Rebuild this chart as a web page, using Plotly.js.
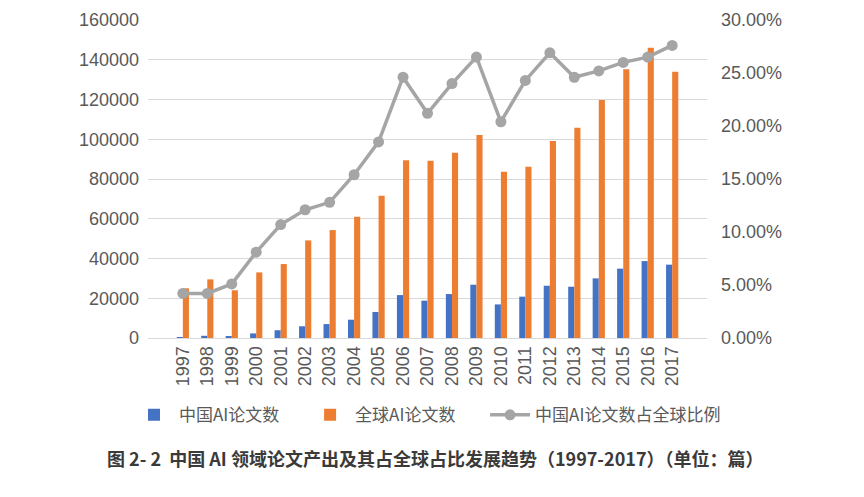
<!DOCTYPE html>
<html>
<head>
<meta charset="utf-8">
<script src="https://cdn.plot.ly/plotly-3.0.1.min.js"></script>
<style>html,body{margin:0;padding:0;background:#fff;}#chart{width:864px;height:497px;}</style>
</head>
<body>
<div id="chart"></div>
<script>
const years = ['1997','1998','1999','2000','2001','2002','2003','2004','2005','2006','2007','2008','2009','2010','2011','2012','2013','2014','2015','2016','2017'];
const chinaPapers = [500,1100,1000,2300,3900,5900,7000,9200,13100,21600,18800,22100,26800,16900,20800,26300,25800,30000,34900,38700,36900];
const globalPapers = [25000,29500,24000,33000,37200,49100,54300,61000,71600,89400,89200,93200,102100,83700,86200,99100,105800,119700,135200,146000,134000];
const chinaShare = [0.042,0.042,0.051,0.081,0.107,0.121,0.128,0.154,0.185,0.246,0.212,0.240,0.265,0.204,0.243,0.269,0.246,0.252,0.260,0.265,0.276];
const seriesNames = ['中国AI论文数','全球AI论文数','中国AI论文数占全球比例'];
const captionText = '图 2- 2  中国 AI 领域论文产出及其占全球占比发展趋势（1997-2017）（单位：篇）';

function tf(size) { return {family: 'Liberation Sans, Arial, sans-serif', size: size, color: '#595959'}; }
function lg(x) {
  return {orientation: 'h', x: x, xanchor: 'left', y: -0.243, yanchor: 'middle',
    font: {family: 'Noto Sans CJK SC, sans-serif', size: 17, color: '#595959'}, itemwidth: 40, bgcolor: 'rgba(0,0,0,0)'};
}
const traces = [
  {type: 'bar', name: seriesNames[0], x: years, y: chinaPapers, marker: {color: '#4472C4'}, yaxis: 'y', legend: 'legend'},
  {type: 'bar', name: seriesNames[1], x: years, y: globalPapers, marker: {color: '#ED7D31'}, yaxis: 'y', legend: 'legend2'},
  {type: 'scatter', mode: 'lines+markers', name: seriesNames[2], x: years, y: chinaShare, yaxis: 'y2', legend: 'legend3',
   line: {color: '#A5A5A5', width: 3.5}, marker: {color: '#A5A5A5', size: 11}}
];
const layout = {
  width: 864, height: 497,
  margin: {l: 148, r: 157, t: 20, b: 159},
  paper_bgcolor: '#fff', plot_bgcolor: '#fff',
  barmode: 'group', bargap: 0.5, bargroupgap: 0,
  showlegend: true,
  legend: lg(-0.034), legend2: lg(0.281), legend3: lg(0.603),
  xaxis: {type: 'category', tickangle: -90, tickfont: tf(18), showgrid: false, showline: true, linecolor: '#d9d9d9', linewidth: 1,
    ticks: '', fixedrange: true},
  yaxis: {range: [0, 160000], dtick: 20000, tickfont: tf(18), gridcolor: '#d9d9d9', gridwidth: 1, zeroline: false,
    showline: false, ticklabelstandoff: 8, tickformat: 'd'},
  yaxis2: {overlaying: 'y', side: 'right', range: [0, 0.30], dtick: 0.05, tickformat: '.2%', tickfont: tf(18),
    showgrid: false, zeroline: false, showline: false, ticklabelstandoff: 13},
  annotations: [{xref: 'paper', yref: 'paper', x: -0.077, y: -0.377, xanchor: 'left', yanchor: 'middle', showarrow: false,
    text: '<b>' + captionText + '</b>', font: {family: 'Noto Sans CJK SC, sans-serif', size: 18, color: '#3a3a3a'}}]
};
Plotly.newPlot('chart', traces, layout, {displayModeBar: false, staticPlot: true});
</script>
</body>
</html>
